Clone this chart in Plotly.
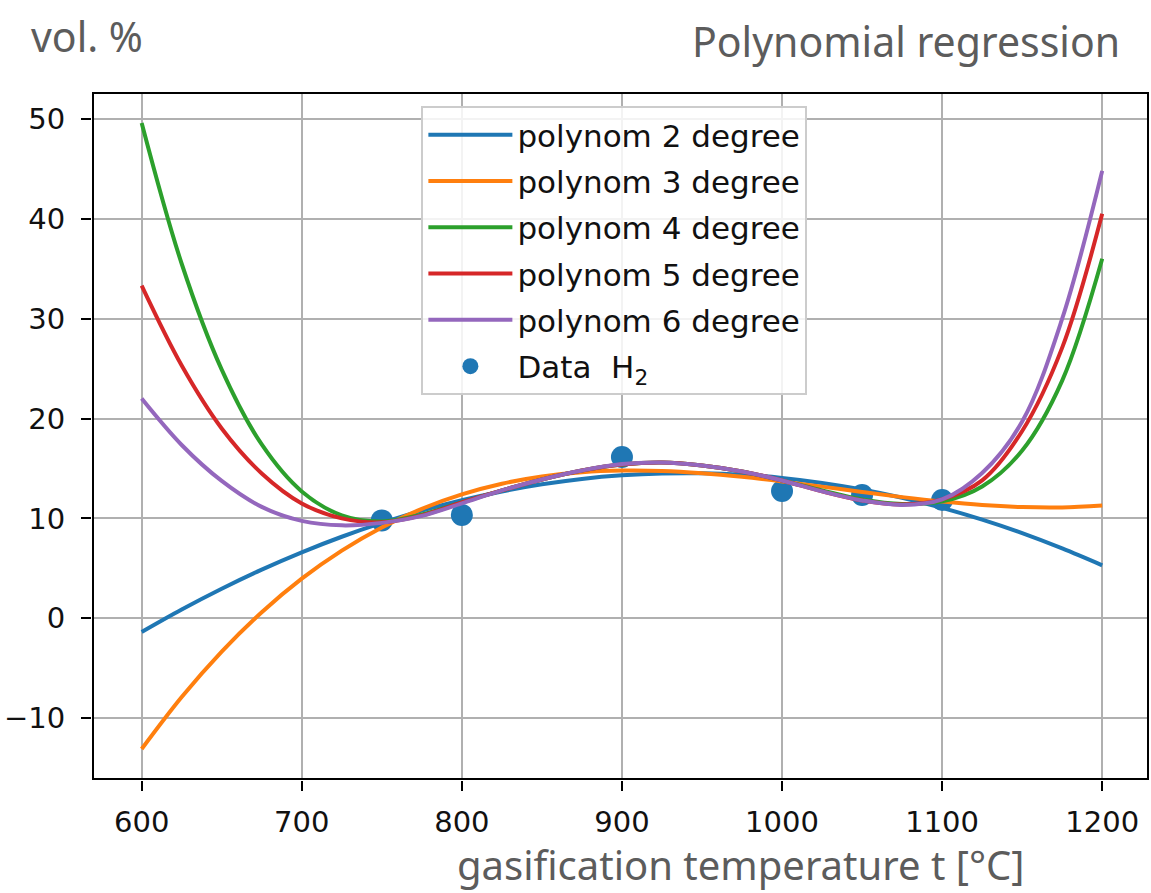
import plotly.graph_objects as go

# Measured hydrogen content of the syngas
temp_data = [750, 800, 900, 1000, 1050, 1100]
h2_data = [9.8, 10.35, 16.15, 12.75, 12.35, 11.85]

# Regression curves, sampled along the temperature axis
temp_curve = [600, 625, 650, 675, 700, 725, 750, 775, 800, 825, 850, 875, 900,
              925, 950, 975, 1000, 1025, 1050, 1075, 1100, 1125, 1150, 1175, 1200]
poly2 = [-1.37, 0.88, 2.96, 4.87, 6.6, 8.16, 9.55, 10.78, 11.82, 12.7, 13.41, 13.95, 14.31,
         14.5, 14.52, 14.37, 14.05, 13.55, 12.89, 12.06, 11.05, 9.87, 8.52, 6.99, 5.3]
poly3 = [-13.1, -7.89, -3.34, 0.6, 3.96, 6.77, 9.09, 10.96, 12.4, 13.47, 14.19, 14.62, 14.79,
         14.75, 14.52, 14.16, 13.7, 13.18, 12.65, 12.13, 11.68, 11.33, 11.13, 11.1, 11.3]
poly4 = [49.6, 35.5, 24.9, 17.4, 12.7, 10.3, 9.7, 10.4, 11.6, 12.8, 13.9, 14.8, 15.4,
         15.6, 15.3, 14.7, 13.8, 12.8, 11.9, 11.45, 11.7, 13.2, 16.8, 23.8, 36.0]
poly5 = [33.3, 25.3, 19.0, 14.5, 11.5, 10.0, 9.6, 10.3, 11.6, 12.8, 13.9, 14.8, 15.4,
         15.6, 15.3, 14.7, 13.8, 12.7, 11.8, 11.4, 11.9, 13.8, 18.75, 27.1, 40.5]
poly6 = [22.0, 17.35, 13.75, 11.15, 9.75, 9.3, 9.55, 10.25, 11.5, 12.8, 13.9, 14.8, 15.45,
         15.6, 15.3, 14.7, 13.8, 12.7, 11.8, 11.35, 11.9, 14.55, 19.7, 30.0, 44.8]

x_ticks = [600, 700, 800, 900, 1000, 1100, 1200]
y_ticks = [-10, 0, 10, 20, 30, 40, 50]

series = [
    ("polynom 2 degree", poly2, "#1f77b4"),
    ("polynom 3 degree", poly3, "#ff7f0e"),
    ("polynom 4 degree", poly4, "#2ca02c"),
    ("polynom 5 degree", poly5, "#d62728"),
    ("polynom 6 degree", poly6, "#9467bd"),
]

W, H = 1151, 893
ML, MR, MT, MB = 93, 1, 93, 114
PW, PH = W - ML - MR, H - MT - MB


def px_x(px):
    return (px - ML) / PW


def px_y(py):
    return (H - MB - py) / PH


fig = go.Figure()
for i, (name, vals, color) in enumerate(series):
    fig.add_trace(go.Scatter(
        x=temp_curve, y=vals, mode="lines", name=name,
        line=dict(color=color, width=4.0, shape="spline", smoothing=1.0),
        legendgroup=f"g{i}",
    ))

fig.add_trace(go.Scatter(
    x=temp_data, y=h2_data, mode="markers", name="Data  H<sub>2</sub>",
    marker=dict(color="#1f77b4", size=22, line=dict(width=0)),
    legendgroup="data", zorder=-1,
))

axis_common = dict(
    showgrid=True, gridcolor="#b0b0b0", gridwidth=2,
    showline=True, linecolor="black", linewidth=2, mirror=True,
    ticks="outside", ticklen=10, tickwidth=2, tickcolor="black",
    zeroline=False,
    tickfont=dict(family="DejaVu Sans", size=29, color="#111111"),
)

fig.update_layout(
    width=W, height=H,
    margin=dict(l=ML, r=MR, t=MT, b=MB),
    paper_bgcolor="white", plot_bgcolor="white",
    xaxis=dict(range=[569.6, 1228.6], tickvals=x_ticks, ticklabelstandoff=6, **axis_common),
    yaxis=dict(range=[-16.1, 52.6], tickvals=y_ticks, ticklabelstandoff=10, **axis_common),
    legend=dict(
        x=px_x(422), y=px_y(106), xanchor="left", yanchor="top",
        bgcolor="rgba(255,255,255,0.85)", bordercolor="#cccccc", borderwidth=2,
        font=dict(family="DejaVu Sans", size=31, color="#111111"),
        traceorder="grouped", tracegroupgap=3, itemwidth=84,
    ),
    showlegend=True,
)

# Axes frame
fig.add_shape(type="rect", xref="paper", yref="paper", x0=0, y0=0, x1=1, y1=1,
              line=dict(color="black", width=2), layer="above")

fig.add_annotation(
    text="vol. %", xref="paper", yref="paper", x=px_x(29), y=px_y(36),
    xanchor="left", yanchor="middle", showarrow=False,
    font=dict(family="Noto Sans", size=41, color="#5c5c5c"),
)
fig.add_annotation(
    text="Polynomial regression", xref="paper", yref="paper", x=px_x(1124), y=px_y(41),
    xanchor="right", yanchor="middle", showarrow=False,
    font=dict(family="Noto Sans", size=41, color="#5c5c5c"),
)
fig.add_annotation(
    text="gasification temperature t [°C]", xref="paper", yref="paper",
    x=px_x(742), y=px_y(864), xanchor="center", yanchor="middle", showarrow=False,
    font=dict(family="Noto Sans", size=40, color="#5c5c5c"),
)

fig.write_html("out.html")
